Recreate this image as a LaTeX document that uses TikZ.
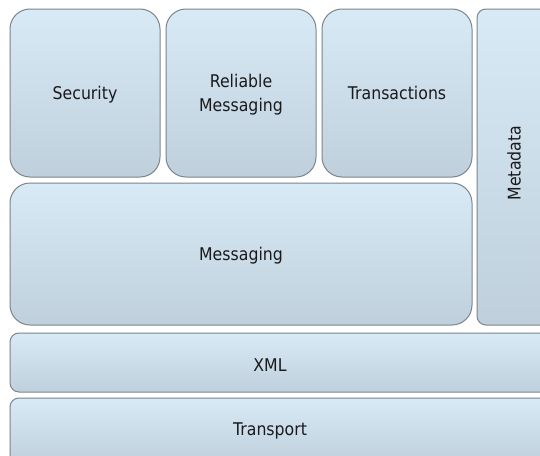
\documentclass[tikz,border=0pt]{standalone}
\usepackage{fontspec}
\setmainfont{DejaVu Sans}[FakeStretch=0.9]
\definecolor{boxtop}{HTML}{D9EAF7}
\definecolor{boxbot}{HTML}{BFD0DC}
\definecolor{boxline}{HTML}{7C858C}
\definecolor{ink}{HTML}{1A1A1A}
\begin{document}
\begin{tikzpicture}[x=1pt,y=-1pt,
  layer/.style={draw=boxline, line width=1pt, top color=boxtop, bottom color=boxbot,
    inner sep=0pt, outer sep=0pt, anchor=north west, text=ink, text depth=0pt,
    font=\fontsize{17.5}{24}\selectfont, align=center},
  label/.style={text=ink, font=\fontsize{17.5}{24}\selectfont, inner sep=0pt, text depth=0pt}]
\useasboundingbox (0,0) rectangle (540,455);
\fill[white] (0,0) rectangle (540,455);
\begin{scope}
\clip (0,0) rectangle (540,455);
% upper row of services
\node[layer, rounded corners=20pt, minimum width=150pt, minimum height=168pt] (sec) at (10,9) {Security};
\node[layer, rounded corners=20pt, minimum width=150pt, minimum height=168pt] (rel) at (166,9) {Reliable\\Messaging};
\node[layer, rounded corners=20pt, minimum width=150pt, minimum height=168pt] (tra) at (322,9) {Transactions};
% metadata column on the right
\node[layer, rounded corners=9pt, minimum width=78pt, minimum height=316pt] (meta) at (477,9) {};
\node[label, rotate=90] (metat) at (514,163) {Metadata};
% messaging layer
\node[layer, rounded corners=20pt, minimum width=462pt, minimum height=142pt] (msg) at (10,183) {Messaging};
% base layers
\node[layer, rounded corners=9pt, minimum width=545pt, minimum height=59pt] (xml) at (10,333) {};
\node[label] (xmlt) at (270,365) {XML};
\node[layer, rounded corners=9pt, minimum width=545pt, minimum height=66pt] (trn) at (10,398) {};
\node[label] (trnt) at (270,429) {Transport};
\end{scope}
\end{tikzpicture}
\end{document}
